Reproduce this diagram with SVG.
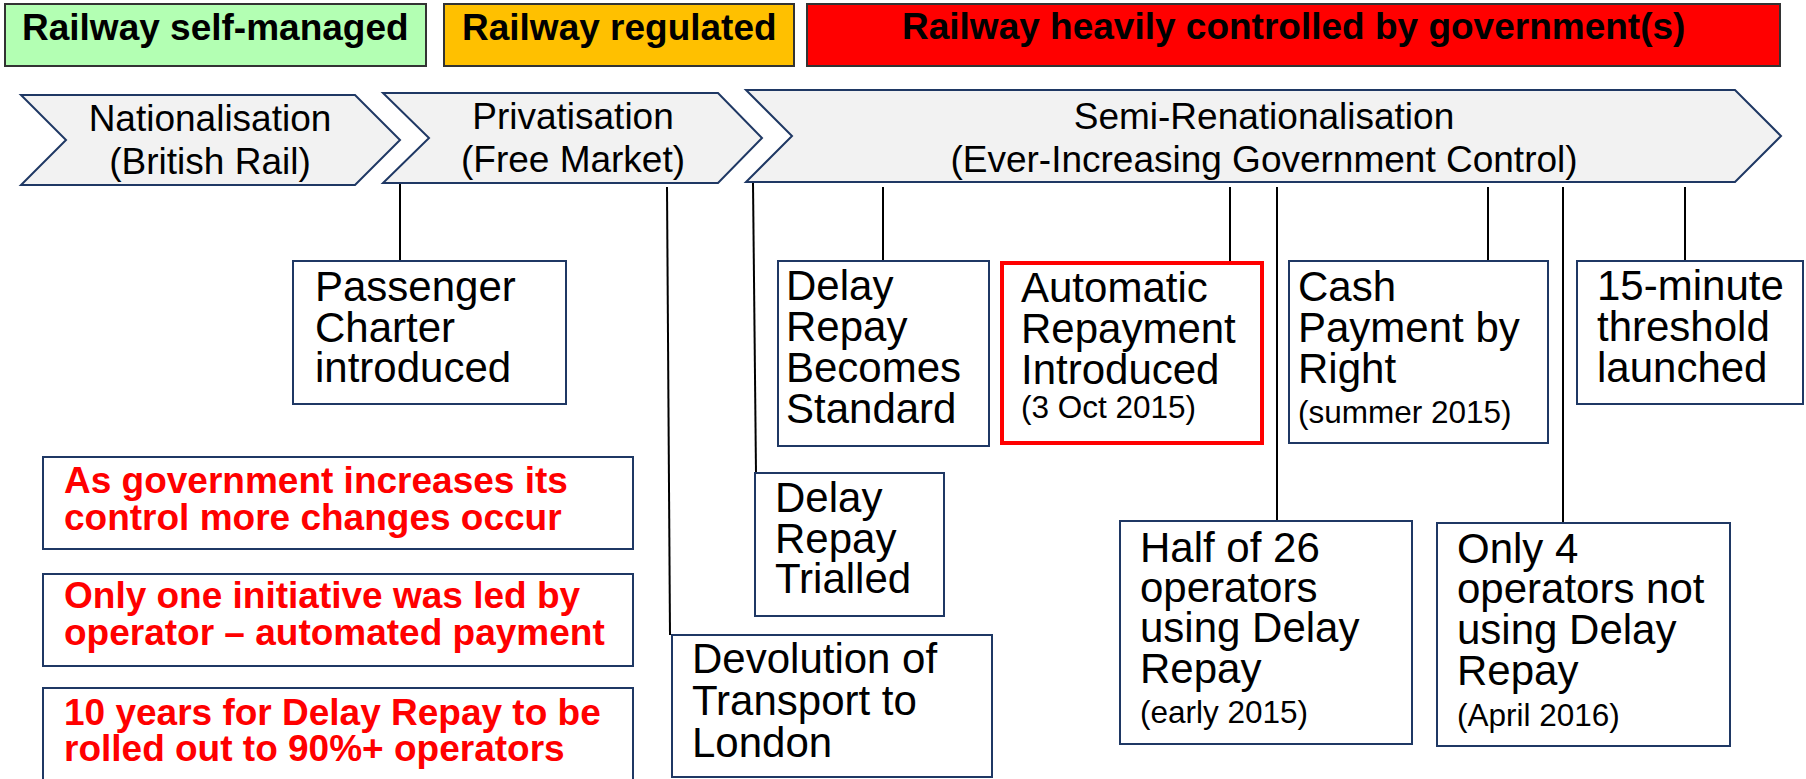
<svg xmlns="http://www.w3.org/2000/svg" width="1806" height="779" viewBox="0 0 1806 779">
<style>
.hdr{font-family:"Liberation Sans",Arial,sans-serif;font-weight:bold;font-size:37px;fill:#000}
.chev{fill:#f2f2f2;stroke:#1f3864;stroke-width:2}
.ct{font-family:"Liberation Sans",Arial,sans-serif;font-size:37px;fill:#000;text-anchor:middle}
.box{fill:#fff;stroke:#1f3864;stroke-width:2}
.rbox{fill:#fff;stroke:#ff0000;stroke-width:4}
.bt{font-family:"Liberation Sans",Arial,sans-serif;font-size:42px;fill:#000}
.st{font-family:"Liberation Sans",Arial,sans-serif;font-size:31.5px;fill:#000}
.nt{font-family:"Liberation Sans",Arial,sans-serif;font-weight:bold;font-size:37px;fill:#ff0000}
.con line{stroke:#000;stroke-width:2}
</style>
<rect width="1806" height="779" fill="#fff"/>
<g id="hdr-self">
<rect x="5" y="4" width="421" height="62" fill="#b3ffb3" stroke="#333" stroke-width="2"/>
<text class="hdr" x="22" y="40">Railway self-managed</text>
</g>
<g id="hdr-reg">
<rect x="444" y="4" width="350" height="62" fill="#ffc000" stroke="#333" stroke-width="2"/>
<text class="hdr" x="462" y="40">Railway regulated</text>
</g>
<g id="hdr-gov">
<rect x="807" y="4" width="973" height="62" fill="#ff0000" stroke="#333" stroke-width="2"/>
<text class="hdr" x="902" y="39">Railway heavily controlled by government(s)</text>
</g>
<g id="chev-nat">
<polygon class="chev" points="21,95 355,95 400,140 355,185 21,185 66,140"/>
<text class="ct" x="210" y="131">Nationalisation</text>
<text class="ct" x="210" y="174">(British Rail)</text>
</g>
<g id="chev-priv">
<polygon class="chev" points="383,93 718,93 762,138 718,183 383,183 429,138"/>
<text class="ct" x="573" y="129">Privatisation</text>
<text class="ct" x="573" y="172">(Free Market)</text>
</g>
<g id="chev-semi">
<polygon class="chev" points="746,90 1735,90 1781,136 1735,182 746,182 792,136"/>
<text class="ct" x="1264" y="129">Semi-Renationalisation</text>
<text class="ct" x="1264" y="172">(Ever-Increasing Government Control)</text>
</g>
<g class="con" id="connectors">
<line x1="400" y1="184" x2="400" y2="261"/>
<line x1="667" y1="187" x2="670" y2="635"/>
<line x1="753" y1="183" x2="756" y2="473"/>
<line x1="883" y1="187" x2="883" y2="261"/>
<line x1="1230" y1="187" x2="1230" y2="263"/>
<line x1="1277" y1="187" x2="1277" y2="521"/>
<line x1="1488" y1="187" x2="1488" y2="261"/>
<line x1="1563" y1="187" x2="1563" y2="523"/>
<line x1="1685" y1="187" x2="1685" y2="261"/>
</g>
<g id="passenger">
<rect class="box" x="293" y="261" width="273" height="143"/>
<text class="bt" x="315" y="301">Passenger</text>
<text class="bt" x="315" y="342">Charter</text>
<text class="bt" x="315" y="382">introduced</text>
</g>
<g id="dr-standard">
<rect class="box" x="778" y="261" width="211" height="185"/>
<text class="bt" x="786" y="300">Delay</text>
<text class="bt" x="786" y="341">Repay</text>
<text class="bt" x="786" y="382">Becomes</text>
<text class="bt" x="786" y="423">Standard</text>
</g>
<g id="auto-repay">
<rect class="rbox" x="1002" y="263" width="260" height="180"/>
<text class="bt" x="1021" y="302">Automatic</text>
<text class="bt" x="1021" y="343">Repayment</text>
<text class="bt" x="1021" y="384">Introduced</text>
<text class="st" x="1021" y="418">(3 Oct 2015)</text>
</g>
<g id="cash">
<rect class="box" x="1289" y="261" width="259" height="182"/>
<text class="bt" x="1298" y="301">Cash</text>
<text class="bt" x="1298" y="342">Payment by</text>
<text class="bt" x="1298" y="383">Right</text>
<text class="st" x="1298" y="423">(summer 2015)</text>
</g>
<g id="fifteen">
<rect class="box" x="1577" y="261" width="226" height="143"/>
<text class="bt" x="1597" y="300">15-minute</text>
<text class="bt" x="1597" y="341">threshold</text>
<text class="bt" x="1597" y="382">launched</text>
</g>
<g id="dr-trialled">
<rect class="box" x="755" y="473" width="189" height="143"/>
<text class="bt" x="775" y="512">Delay</text>
<text class="bt" x="775" y="553">Repay</text>
<text class="bt" x="775" y="593">Trialled</text>
</g>
<g id="devolution">
<rect class="box" x="672" y="635" width="320" height="142"/>
<text class="bt" x="692" y="673">Devolution of</text>
<text class="bt" x="692" y="715">Transport to</text>
<text class="bt" x="692" y="757">London</text>
</g>
<g id="half">
<rect class="box" x="1120" y="521" width="292" height="223"/>
<text class="bt" x="1140" y="562">Half of 26</text>
<text class="bt" x="1140" y="602">operators</text>
<text class="bt" x="1140" y="642">using Delay</text>
<text class="bt" x="1140" y="683">Repay</text>
<text class="st" x="1140" y="723">(early 2015)</text>
</g>
<g id="only4">
<rect class="box" x="1437" y="523" width="293" height="223"/>
<text class="bt" x="1457" y="563">Only 4</text>
<text class="bt" x="1457" y="603">operators not</text>
<text class="bt" x="1457" y="644">using Delay</text>
<text class="bt" x="1457" y="685">Repay</text>
<text class="st" x="1457" y="726">(April 2016)</text>
</g>
<g id="note1">
<rect class="box" x="43" y="457" width="590" height="92"/>
<text class="nt" x="64" y="493">As government increases its</text>
<text class="nt" x="64" y="530">control more changes occur</text>
</g>
<g id="note2">
<rect class="box" x="43" y="574" width="590" height="92"/>
<text class="nt" x="64" y="608">Only one initiative was led by</text>
<text class="nt" x="64" y="645">operator – automated payment</text>
</g>
<g id="note3">
<rect class="box" x="43" y="688" width="590" height="100"/>
<text class="nt" x="64" y="725">10 years for Delay Repay to be</text>
<text class="nt" x="64" y="761">rolled out to 90%+ operators</text>
</g>
</svg>
